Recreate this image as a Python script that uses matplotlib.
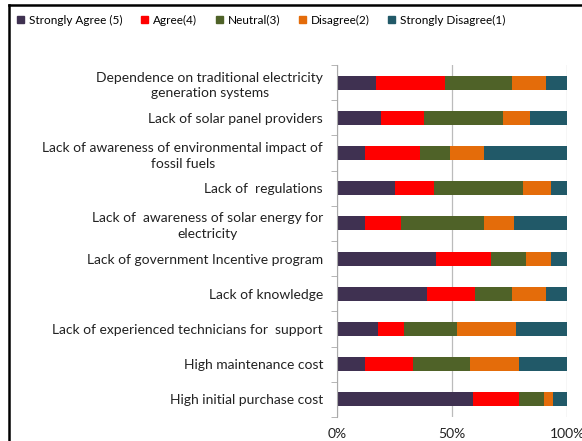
import matplotlib

matplotlib.use("Agg")
import matplotlib.pyplot as plt
from matplotlib.lines import Line2D
import numpy as np

categories = [
    "Dependence on traditional electricity\ngeneration systems",
    "Lack of solar panel providers",
    "Lack of awareness of environmental impact of\nfossil fuels",
    "Lack of  regulations",
    "Lack of  awareness of solar energy for\nelectricity",
    "Lack of government Incentive program",
    "Lack of knowledge",
    "Lack of experienced technicians for  support",
    "High maintenance cost",
    "High initial purchase cost",
]
series_names = ["Strongly Agree (5)", "Agree(4)", "Neutral(3)", "Disagree(2)", "Strongly Disagree(1)"]
strongly_agree = [17, 19, 12, 25, 12, 43, 39, 18, 12, 59]
agree = [30, 19, 24, 17, 16, 24, 21, 11, 21, 20]
neutral = [29, 34, 13, 39, 36, 15, 16, 23, 25, 11]
disagree = [15, 12, 15, 12, 13, 11, 15, 26, 21, 4]
strongly_disagree = [9, 16, 36, 7, 23, 7, 9, 22, 21, 6]
colors = ["#3F3151", "#FF0000", "#4F6228", "#E46C0A", "#215968"]

plt.rcParams["font.family"] = ["Lato", "DejaVu Sans"]

fig = plt.figure(figsize=(5.82, 4.41), dpi=100)
ax = fig.add_axes([337 / 582, 1 - 417 / 441, 230 / 582, 352 / 441])

data = np.array([strongly_agree, agree, neutral, disagree, strongly_disagree], dtype=float)
data = data / data.sum(axis=0) * 100
y = np.arange(len(categories))
left = np.zeros(len(categories))
for vals, name, c in zip(data, series_names, colors):
    ax.barh(y, vals, left=left, height=0.4, color=c, label=name)
    left += vals

ax.set_xlim(0, 100)
ax.set_ylim(len(categories) - 0.5, -0.5)
ax.set_yticks(y)
ax.set_yticklabels(categories, fontsize=10, color="#222222", ha="right", multialignment="center",
                   linespacing=1.35)
ax.set_yticks(np.arange(len(categories) + 1) - 0.5, minor=True)
ax.tick_params(axis="y", which="major", length=0, pad=10)
ax.tick_params(axis="y", which="minor", length=4, color="#AAAAAA")
ax.set_xticks([0, 50, 100])
ax.set_xticklabels(["0%", "50%", "100%"], fontsize=10, color="#222222")
ax.tick_params(axis="x", length=0, pad=8)
ax.grid(axis="x", color="#BBBBBB", linewidth=0.9)
ax.set_axisbelow(True)
for s in ["top", "right", "bottom"]:
    ax.spines[s].set_visible(False)
ax.spines["left"].set_color("#AAAAAA")

handles = [plt.Rectangle((0, 0), 1, 1, color=c) for c in colors]
fig.legend(handles, series_names, loc="upper left", bbox_to_anchor=(12 / 582, 1 - 10 / 441),
           ncol=5, frameon=False, fontsize=8.5, handlelength=0.6, handleheight=0.6,
           handletextpad=0.4, columnspacing=1.6, borderaxespad=0)

fig.add_artist(Line2D([8.5 / 582, 8.5 / 582], [0, 1 - 4.5 / 441], color="black", linewidth=1.8, transform=fig.transFigure))
fig.add_artist(Line2D([8.5 / 582, 1], [1 - 4.5 / 441, 1 - 4.5 / 441], color="black", linewidth=1.8, transform=fig.transFigure))

fig.savefig("out.png", dpi=100)
